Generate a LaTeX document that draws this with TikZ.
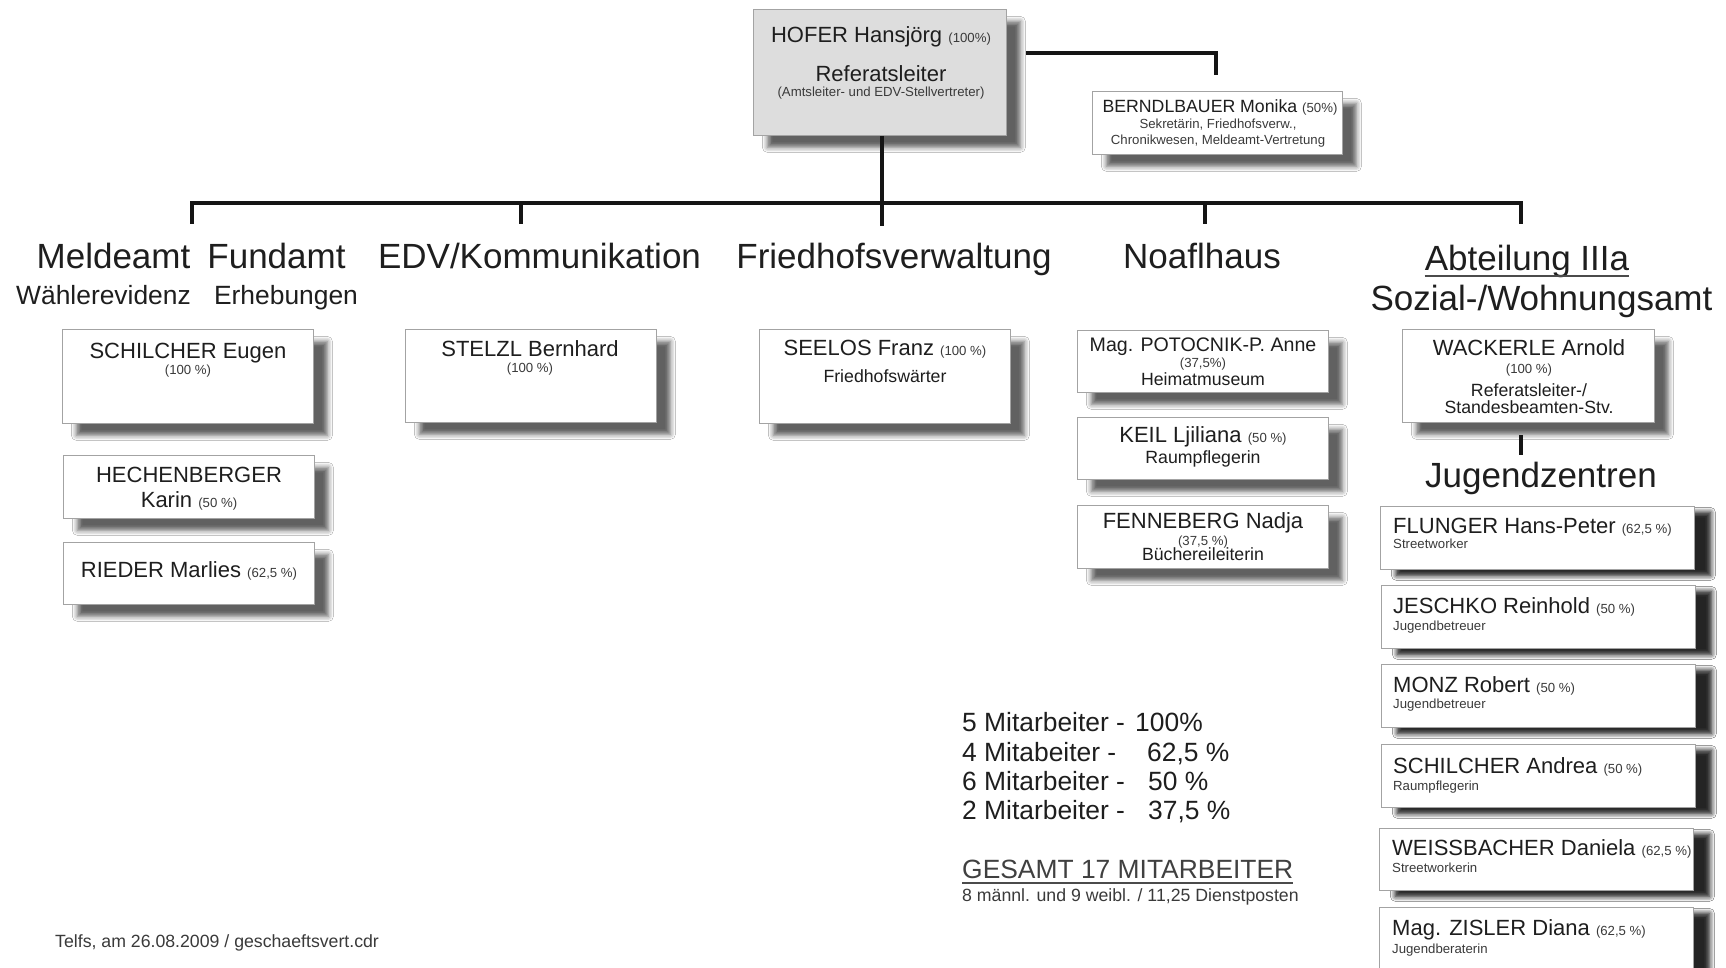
\documentclass[tikz,border=0pt]{standalone}
\usepackage{fontspec}
\setmainfont{Liberation Sans}
\usetikzlibrary{shadows.blur}

\definecolor{pagebg}{HTML}{FFFFFF}
\definecolor{linecolor}{HTML}{151515}
\definecolor{textcolor}{HTML}{1E1E1E}
\definecolor{smallcolor}{HTML}{3A3A3A}
\definecolor{boxborder}{HTML}{A3A3A3}
\definecolor{chieffill}{HTML}{DDDDDD}

\newcommand{\headfont}{\fontsize{35}{40}\selectfont}
\newcommand{\subheadfont}{\fontsize{26.4}{30}\selectfont}
\newcommand{\namefont}{\fontsize{22}{26}\selectfont}
\newcommand{\midfont}{\fontsize{17.7}{21}\selectfont}
\newcommand{\smallfont}{\fontsize{13.2}{16}\selectfont}

\tikzset{
  card/.style={draw=boxborder, line width=0.8pt, fill=white, inner sep=0pt, anchor=north west,
    minimum width=251pt, minimum height=63pt,
    blur shadow={shadow xshift=14pt, shadow yshift=-12pt, shadow blur radius=5pt, shadow opacity=62}},
  jzcard/.style={card, minimum width=314pt,
    blur shadow={shadow xshift=16pt, shadow yshift=-6pt, shadow blur radius=5pt, shadow opacity=62}},
  orgline/.style={draw=linecolor, line width=3.6pt},
  headtxt/.style={anchor=base, inner sep=0pt, text=textcolor, font=\headfont},
  subheadtxt/.style={anchor=base, inner sep=0pt, text=textcolor, font=\subheadfont},
  nametxt/.style={anchor=base, inner sep=0pt, text=textcolor, font=\namefont},
  midtxt/.style={anchor=base, inner sep=0pt, text=textcolor, font=\midfont},
  smalltxt/.style={anchor=base, inner sep=0pt, text=smallcolor, font=\smallfont},
  ulline/.style={draw=textcolor!80, line width=1.3pt}
}

\begin{document}
\begin{tikzpicture}[x=1pt, y=-1pt]
  % Page
  \useasboundingbox[fill=pagebg] (0,0) rectangle (1726,968);

  % === HEAD OF DEPARTMENT ===
  \node[card, fill=chieffill, minimum width=253pt, minimum height=126pt] (hofer) at (753,9) {};
  \node[nametxt] (hoferN) at (881,43) {HOFER Hansjörg {\smallfont\color{smallcolor}(100\%)}};
  \node[nametxt] (hoferR) at (881,82) {Referatsleiter};
  \node[smalltxt] (hoferS) at (881,97) {(Amtsleiter- und EDV-Stellvertreter)};

  % Secretary
  \node[card, minimum width=250pt] (berndl) at (1092,91) {};
  \node[midtxt] (berndlN) at (1220,113) {BERNDLBAUER Monika {\smallfont\color{smallcolor}(50\%)}};
  \node[smalltxt] (berndlS1) at (1218,129) {Sekretärin, Friedhofsverw.,};
  \node[smalltxt] (berndlS2) at (1218,145) {Chronikwesen, Meldeamt-Vertretung};

  % === CONNECTORS ===
  \coordinate (secL) at (1026,53);
  \coordinate (secR) at (1216,75);
  \draw[orgline] (secL) -| (secR);

  \coordinate (busR) at (1521,203);
  \coordinate (dropA) at (192,224);
  \coordinate (dropB) at (521,224);
  \coordinate (dropC) at (882,226);
  \coordinate (dropD) at (1205,224);
  \coordinate (dropE) at (1521,224);
  \draw[orgline] (dropA) |- (busR) -- (dropE);
  \draw[orgline] (dropC |- hofer.south) -- (dropC);
  \draw[orgline] (dropB |- busR) -- (dropB);
  \draw[orgline] (dropD |- busR) -- (dropD);

  % === DEPARTMENT HEADINGS ===
  \node[headtxt] (meldeamt) at (113.5,269) {Meldeamt};
  \node[headtxt] (fundamt) at (276.5,269) {Fundamt};
  \node[subheadtxt] (waehler) at (103.5,304) {Wählerevidenz};
  \node[subheadtxt] (erheb) at (286,304) {Erhebungen};
  \node[headtxt] (edv) at (539.5,269) {EDV/Kommunikation};
  \node[headtxt] (friedhof) at (894,269) {Friedhofsverwaltung};
  \node[headtxt] (noafl) at (1202,269) {Noaflhaus};
  \node[headtxt] (abt) at (1527,271) {Abteilung IIIa};
  \draw[ulline] ([yshift=-5pt]abt.base west) -- ([yshift=-5pt]abt.base east);
  \node[headtxt] (sozial) at (1541.5,310) {Sozial-/Wohnungsamt};

  % === MELDEAMT / FUNDAMT ===
  \node[card, minimum height=94pt] (schilcherE) at (62,329) {};
  \node[nametxt] (schilcherEN) at (188,358) {SCHILCHER Eugen};
  \node[smalltxt] (schilcherEP) at (188,374) {(100 \%)};

  \node[card] (hechen) at (63,455) {};
  \node[nametxt] (hechenN) at (189,482) {HECHENBERGER};
  \node[nametxt] (hechenK) at (189,507) {Karin {\smallfont\color{smallcolor}(50 \%)}};

  \node[card, minimum height=62pt] (rieder) at (63,542) {};
  \node[nametxt] (riederN) at (189,577) {RIEDER Marlies {\smallfont\color{smallcolor}(62,5 \%)}};

  % === EDV ===
  \node[card, minimum height=93pt] (stelzl) at (405,329) {};
  \node[nametxt] (stelzlN) at (530,356) {STELZL Bernhard};
  \node[smalltxt] (stelzlP) at (530,372) {(100 \%)};

  % === FRIEDHOF ===
  \node[card, minimum height=94pt] (seelos) at (759,329) {};
  \node[nametxt] (seelosN) at (885,355) {SEELOS Franz {\smallfont\color{smallcolor}(100 \%)}};
  \node[midtxt] (seelosF) at (885,382) {Friedhofswärter};

  % === NOAFLHAUS ===
  \node[card, minimum height=62pt] (potocnik) at (1077,330) {};
  \node[nametxt, font=\fontsize{19.6}{23}\selectfont] (potocnikN) at (1203,351) {Mag. POTOCNIK-P. Anne};
  \node[smalltxt] (potocnikP) at (1203,367) {(37,5\%)};
  \node[midtxt] (potocnikH) at (1203,385) {Heimatmuseum};

  \node[card, minimum height=62pt] (keil) at (1077,417) {};
  \node[nametxt] (keilN) at (1203,442) {KEIL Ljiliana {\smallfont\color{smallcolor}(50 \%)}};
  \node[midtxt] (keilR) at (1203,463) {Raumpflegerin};

  \node[card] (fenneberg) at (1077,505) {};
  \node[nametxt] (fennebergN) at (1203,528) {FENNEBERG Nadja};
  \node[smalltxt] (fennebergP) at (1203,545) {(37,5 \%)};
  \node[midtxt] (fennebergB) at (1203,560) {Büchereileiterin};

  % === ABTEILUNG IIIa ===
  \node[card, minimum width=252pt, minimum height=93pt] (wackerle) at (1402,329) {};
  \node[nametxt] (wackerleN) at (1529,355) {WACKERLE Arnold};
  \node[smalltxt] (wackerleP) at (1529,373) {(100 \%)};
  \node[midtxt] (wackerleR1) at (1529,396) {Referatsleiter-/};
  \node[midtxt] (wackerleR2) at (1529,413) {Standesbeamten-Stv.};

  \coordinate (jzTop) at (1521,435);
  \coordinate (jzBot) at (1521,455);
  \draw[orgline] (jzTop) -- (jzBot);
  \node[headtxt] (jugend) at (1541,487) {Jugendzentren};

  % Youth centre staff, left aligned
  \node[jzcard] (flunger) at (1380,506) {};
  \node[nametxt, anchor=base west] (flungerN) at (1393,533) {FLUNGER Hans-Peter {\smallfont\color{smallcolor}(62,5 \%)}};
  \node[smalltxt, anchor=base west] (flungerS) at (1393,548) {Streetworker};

  \node[jzcard] (jeschko) at (1381,585) {};
  \node[nametxt, anchor=base west] (jeschkoN) at (1393,613) {JESCHKO Reinhold {\smallfont\color{smallcolor}(50 \%)}};
  \node[smalltxt, anchor=base west] (jeschkoS) at (1393,630) {Jugendbetreuer};

  \node[jzcard] (monz) at (1381,664) {};
  \node[nametxt, anchor=base west] (monzN) at (1393,692) {MONZ Robert {\smallfont\color{smallcolor}(50 \%)}};
  \node[smalltxt, anchor=base west] (monzS) at (1393,708) {Jugendbetreuer};

  \node[jzcard] (schilcherA) at (1381,744) {};
  \node[nametxt, anchor=base west] (schilcherAN) at (1393,773) {SCHILCHER Andrea {\smallfont\color{smallcolor}(50 \%)}};
  \node[smalltxt, anchor=base west] (schilcherAS) at (1393,790) {Raumpflegerin};

  \node[jzcard, minimum height=62pt] (weiss) at (1379,828) {};
  \node[nametxt, anchor=base west] (weissN) at (1392,855) {WEISSBACHER Daniela {\smallfont\color{smallcolor}(62,5 \%)}};
  \node[smalltxt, anchor=base west] (weissS) at (1392,872) {Streetworkerin};

  \node[jzcard, minimum height=70pt] (zisler) at (1379,907) {};
  \node[nametxt, anchor=base west] (zislerN) at (1392,935) {Mag. ZISLER Diana {\smallfont\color{smallcolor}(62,5 \%)}};
  \node[smalltxt, anchor=base west] (zislerS) at (1392,953) {Jugendberaterin};

  % === STAFF SUMMARY ===
  \node[subheadtxt, anchor=base west] (stat1) at (962,731) {5 Mitarbeiter -};
  \node[subheadtxt, anchor=base west] (val1) at (1135,731) {100\%};
  \node[subheadtxt, anchor=base west] (stat2) at (962,761) {4 Mitabeiter -};
  \node[subheadtxt, anchor=base west] (val2) at (1147,761) {62,5 \%};
  \node[subheadtxt, anchor=base west] (stat3) at (962,790) {6 Mitarbeiter -};
  \node[subheadtxt, anchor=base west] (val3) at (1148,790) {50 \%};
  \node[subheadtxt, anchor=base west] (stat4) at (962,819) {2 Mitarbeiter -};
  \node[subheadtxt, anchor=base west] (val4) at (1148,819) {37,5 \%};

  \node[subheadtxt, anchor=base west, text=textcolor!85] (gesamt) at (962,878) {GESAMT 17 MITARBEITER};
  \draw[ulline] ([yshift=-5pt]gesamt.base west) -- ([yshift=-5pt]gesamt.base east);
  \node[midtxt, anchor=base west, text=smallcolor] (gesamtD) at (962,901) {8 männl. und 9 weibl. / 11,25 Dienstposten};

  % Footer
  \node[midtxt, anchor=base west, text=smallcolor] (footer) at (55,947) {Telfs, am 26.08.2009 / geschaeftsvert.cdr};
\end{tikzpicture}
\end{document}
